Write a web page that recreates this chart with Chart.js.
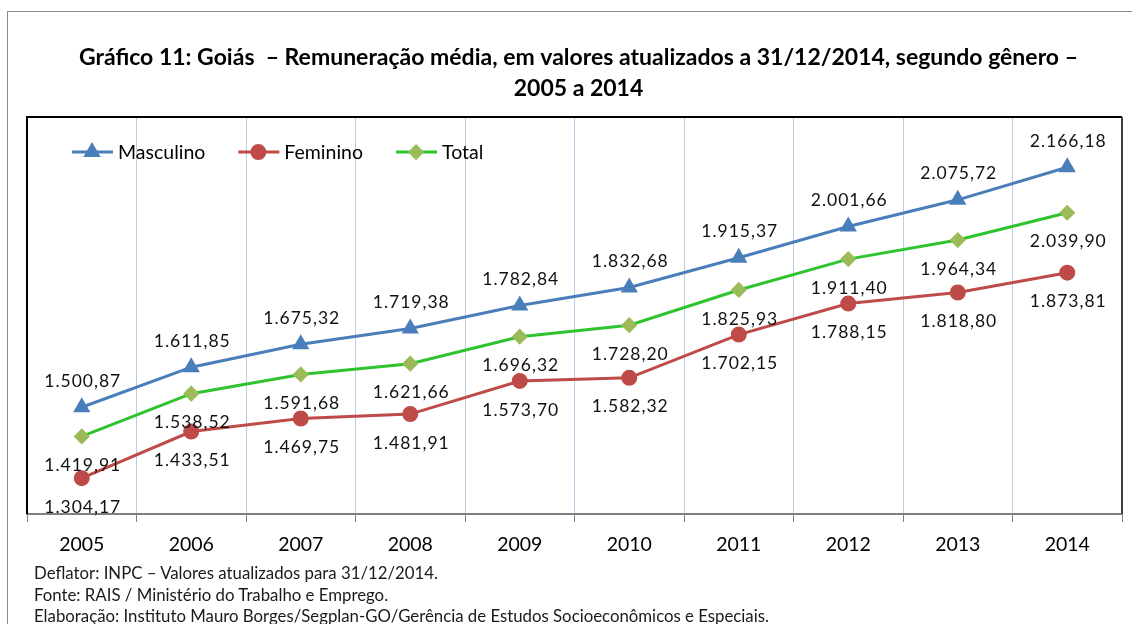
<!DOCTYPE html>
<html lang="pt-BR">
<head>
  <meta charset="UTF-8" />
  <title>Gráfico 11: Goiás</title>
  <script src="https://cdn.jsdelivr.net/npm/chart.js"></script>
  <style>
    body {
      margin: 0;
      background: #ffffff;
      font-family: 'Lato', sans-serif;
      width: 1132px;
      height: 624px;
      overflow: hidden;
      position: relative;
    }
    .frame {
      position: absolute;
      left: 7px;
      top: 11px;
      width: 1140px;
      height: 640px;
      border: 1px solid #8c8c8c;
    }
    #wrap {
      position: absolute;
      left: 0;
      top: 0;
      width: 1132px;
      height: 624px;
    }
    .notes {
      position: absolute;
      left: 34px;
      top: 562px;
      font-size: 16.8px;
      line-height: 21.5px;
      color: #1a1a1a;
    }
  </style>
</head>
<body>
<div class="frame"></div>
<div id="wrap"><canvas id="chart"></canvas></div>
<div class="notes">
  Deflator: INPC – Valores atualizados para 31/12/2014.<br>
  Fonte: RAIS / Ministério do Trabalho e Emprego.<br>
  Elaboração: Instituto Mauro Borges/Segplan-GO/Gerência de Estudos Socioeconômicos e Especiais.
</div>

<script>
  const years = ['2005', '2006', '2007', '2008', '2009', '2010', '2011', '2012', '2013', '2014'];
  const masculino = [1500.87, 1611.85, 1675.32, 1719.38, 1782.84, 1832.68, 1915.37, 2001.66, 2075.72, 2166.18];
  const feminino = [1304.17, 1433.51, 1469.75, 1481.91, 1573.70, 1582.32, 1702.15, 1788.15, 1818.80, 1873.81];
  const total = [1419.91, 1538.52, 1591.68, 1621.66, 1696.32, 1728.20, 1825.93, 1911.40, 1964.34, 2039.90];

  // 1.500,87 style
  function fmt(v) {
    const parts = v.toFixed(2).split('.');
    const int = parts[0].replace(/\B(?=(\d{3})+(?!\d))/g, '.');
    return int + ',' + parts[1];
  }

  // labels above for Masculino, below for the other two
  const labelShift = [-26, 29, 29];

  const valueLabels = {
    id: 'valueLabels',
    afterDatasetsDraw(chart) {
      const ctx = chart.ctx;
      ctx.save();
      ctx.font = '17.5px Lato';
      ctx.letterSpacing = '1px';
      ctx.fillStyle = '#111';
      ctx.textAlign = 'center';
      ctx.textBaseline = 'middle';
      chart.data.datasets.forEach((ds, i) => {
        chart.getDatasetMeta(i).data.forEach((pt, j) => {
          ctx.fillText(fmt(ds.data[j]), pt.x + 1, pt.y + labelShift[i]);
        });
      });
      ctx.restore();
    }
  };

  const plotBorder = {
    id: 'plotBorder',
    afterDraw(chart) {
      const a = chart.chartArea;
      const ctx = chart.ctx;
      ctx.save();
      ctx.strokeStyle = '#000';
      ctx.lineWidth = 2;
      ctx.beginPath();
      ctx.moveTo(a.left, a.bottom);
      ctx.lineTo(a.left, a.top);
      ctx.lineTo(a.right, a.top);
      ctx.stroke();
      ctx.strokeStyle = '#404040';
      ctx.beginPath();
      ctx.moveTo(a.right, a.top);
      ctx.lineTo(a.right, a.bottom);
      ctx.stroke();
      ctx.restore();
    }
  };

  // legend drawn inside the plot area, top-left
  const innerLegend = {
    id: 'innerLegend',
    afterDraw(chart) {
      const ctx = chart.ctx;
      let x = chart.chartArea.left + 45;
      const y = chart.chartArea.top + 35;
      ctx.save();
      ctx.font = '19.5px Lato';
      ctx.textBaseline = 'middle';
      chart.data.datasets.forEach(ds => {
        ctx.strokeStyle = ds.borderColor;
        ctx.lineWidth = 3;
        ctx.beginPath();
        ctx.moveTo(x, y);
        ctx.lineTo(x + 41, y);
        ctx.stroke();
        ctx.fillStyle = ds.pointBackgroundColor;
        ctx.strokeStyle = ds.pointBorderColor;
        Chart.helpers.drawPoint(ctx, {
          pointStyle: ds.pointStyle,
          radius: ds.pointRadius,
          borderWidth: 1,
          rotation: 0
        }, x + 20, y);
        ctx.fillStyle = '#000';
        ctx.fillText(ds.label, x + 46, y + 1);
        x += 46 + ctx.measureText(ds.label).width + 33;
      });
      ctx.restore();
    }
  };

  new Chart(document.getElementById('chart'), {
    type: 'line',
    data: {
      labels: years,
      datasets: [
        {
          label: 'Masculino',
          data: masculino,
          borderColor: '#4a7ebb',
          borderWidth: 3,
          pointStyle: 'triangle',
          pointRadius: 7,
          pointBackgroundColor: '#4a7ebb',
          pointBorderColor: '#4a7ebb'
        },
        {
          label: 'Feminino',
          data: feminino,
          borderColor: '#be4b48',
          borderWidth: 3,
          pointStyle: 'circle',
          pointRadius: 6.5,
          pointBackgroundColor: '#be4b48',
          pointBorderColor: '#be4b48'
        },
        {
          label: 'Total',
          data: total,
          borderColor: '#2fc42f',
          borderWidth: 3,
          pointStyle: 'rectRot',
          pointRadius: 6,
          pointBackgroundColor: '#9bbb59',
          pointBorderColor: '#9bbb59'
        }
      ]
    },
    options: {
      responsive: true,
      maintainAspectRatio: false,
      animation: false,
      layout: { padding: { left: 27, right: 2, top: 0, bottom: 0 } },
      plugins: {
        legend: { display: false },
        tooltip: { enabled: false },
        title: {
          display: true,
          text: [
            'Gráfico 11: Goiás  – Remuneração média, em valores atualizados a 31/12/2014, segundo gênero –',
            '2005 a 2014'
          ],
          color: '#000',
          font: { family: 'Lato', size: 23, weight: 'bold', lineHeight: 1.35 },
          padding: { top: 42, bottom: 13 }
        }
      },
      scales: {
        x: {
          offset: true,
          grid: {
            offset: true,
            color: '#b9cde5',
            lineWidth: 1,
            tickColor: '#808080',
            tickLength: 8,
            drawTicks: true
          },
          border: { color: '#808080', width: 2 },
          ticks: {
            color: '#000',
            font: { family: 'Lato', size: 19.5 },
            padding: 11
          },
          afterFit(scale) { scale.height = 110; }
        },
        y: {
          display: false,
          min: 1205,
          max: 2305
        }
      }
    },
    plugins: [valueLabels, plotBorder, innerLegend]
  });
</script>
</body>
</html>
